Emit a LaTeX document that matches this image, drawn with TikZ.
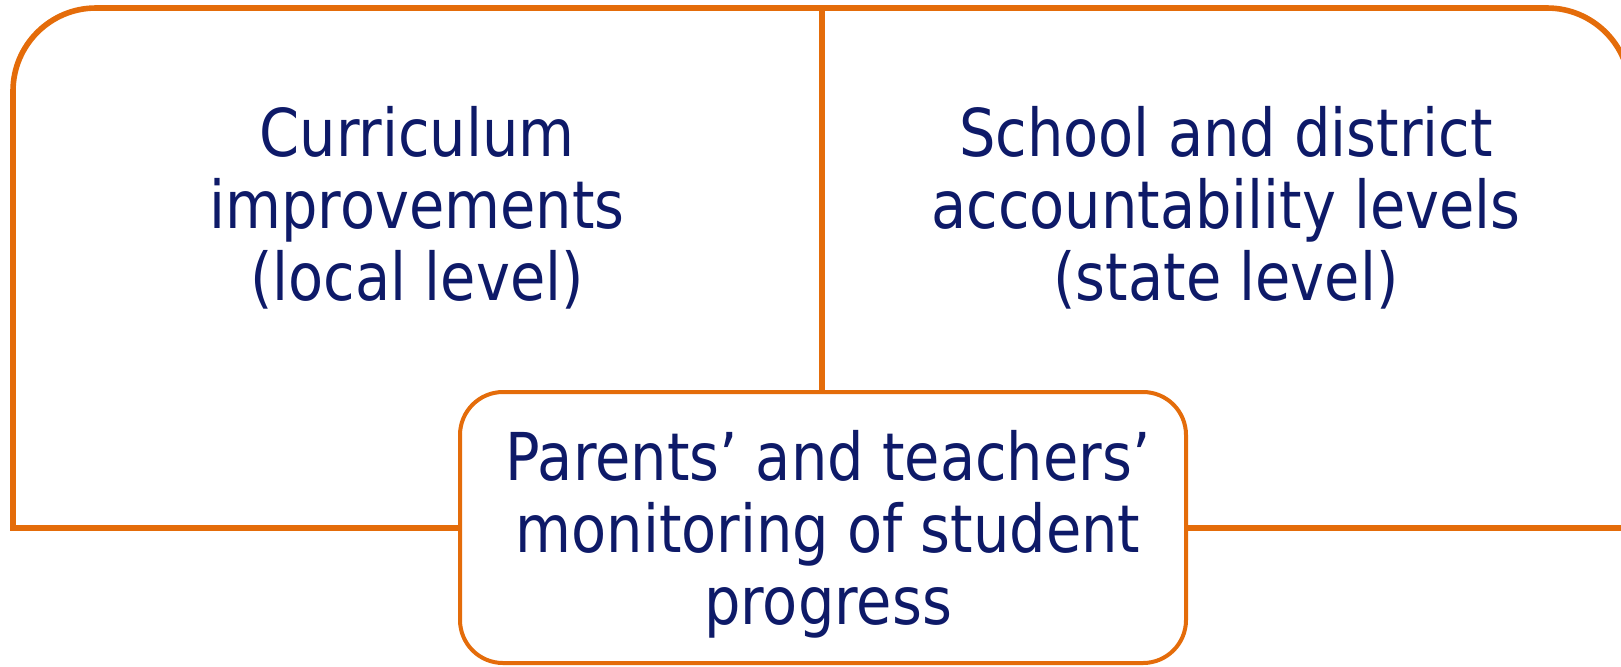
\documentclass[tikz,border=0pt]{standalone}
\usepackage{fontspec}
\setmainfont{DejaVu Sans}[FakeStretch=0.87]
\usepackage{xcolor}
\definecolor{boxorange}{RGB}{228,108,10}
\definecolor{textnavy}{RGB}{14,26,104}

\begin{document}
\begin{tikzpicture}[x=0.5pt, y=-0.5pt,
    panel/.style={draw=boxorange, line width=2.8pt, line join=miter},
    paneltext/.style={text=textnavy, align=center, font=\fontsize{33}{36}\selectfont},
    centerbox/.style={draw=boxorange, fill=white, line width=2pt, rounded corners=21.5pt,
      minimum width=363pt, minimum height=135.5pt, inner sep=0pt}]
        \useasboundingbox (0,0) rectangle (1621,666);
        % left and right panels
        \draw[panel] (822,528) -- (13,528) -- (13,91) arc[start angle=180, end angle=90, radius=41.5pt] -- (822,8) -- cycle;
        \draw[panel] (822,8) -- (1547,8) arc[start angle=90, end angle=0, radius=41.5pt] -- (1630,528) -- (822,528) -- cycle;
        % texts
        \node[paneltext] (local) at (417,208) {Curriculum\\improvements\\(local level)};
        \node[paneltext] (state) at (1226,208) {School and district\\accountability levels\\(state level)};
        \node[centerbox] (parentsbox) at (823,527.5) {};
        \node[paneltext] (parents) at ([shift={(5,7)}]parentsbox.center) {Parents’ and teachers’\\monitoring of student\\progress};
    \end{tikzpicture}
\end{document}
